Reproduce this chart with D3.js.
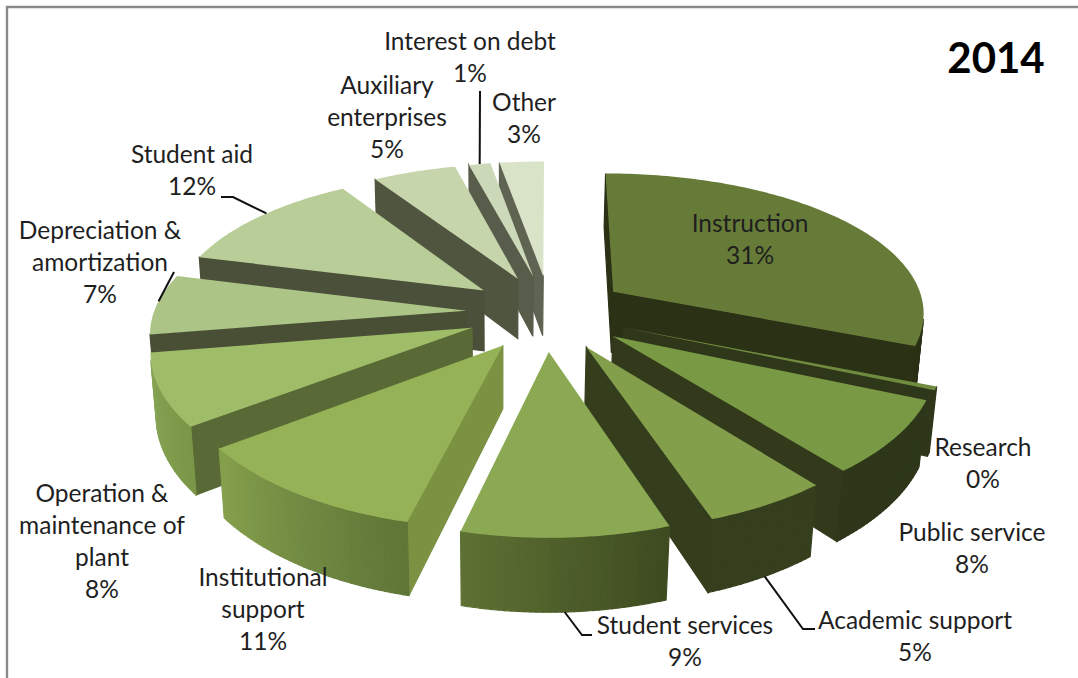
<!DOCTYPE html>
<html>
<head>
<meta charset="utf-8">
<script src="https://cdn.jsdelivr.net/npm/d3@7"></script>
<style>
  html, body { margin: 0; padding: 0; background: #fff; }
  svg { display: block; }
  text { font-family: Lato, "Open Sans", sans-serif; fill: #1f1f1f; }
</style>
</head>
<body>
<svg id="chart" width="1078" height="678"></svg>
<script>
// Spending shares, clockwise from twelve o'clock.
const categories = ["Instruction", "Research", "Public service", "Academic support", "Student services",
  "Institutional support", "Operation & maintenance of plant", "Depreciation & amortization",
  "Student aid", "Auxiliary enterprises", "Interest on debt", "Other"];
const shares = [31.2, 0.4, 7.8, 5.45, 9.0, 10.8, 7.8, 6.75, 11.95, 5.0, 1.3, 2.65];
const chartYear = "2014";

// Colours of each wedge: top surface, flat cut faces, rim at its start and end angle.
const topColors  = ["#677b38", "#6f8b3f", "#7a9944", "#839f4b", "#8aa952", "#95b356",
                    "#9fbc68", "#acc486", "#b8cd97", "#c6d5ab", "#ccd9b8", "#d9e3c8"];
const faceColors = ["#2b3115", "#2f371a", "#323a1b", "#343d1c", "#4a5a28", "#7b9243",
                    "#596a36", "#484f35", "#4b503a", "#50553f", "#585c4a", "#5f6352"];
const rimStart   = ["#2b3115", "#2f371a", "#2e371a", "#363f1d", "#3d4a20", "#5f7537",
                    "#7a9646", "#8aa56a", "#8a9f70", "#8a9a76", "#8a9a76", "#8a9a76"];
const rimEnd     = ["#2b3115", "#2f371a", "#2e371a", "#363f1d", "#5f7234", "#85a04d",
                    "#88a658", "#8aa56a", "#8a9f70", "#8a9a76", "#8a9a76", "#8a9a76"];

// Perspective camera for the tilted disc.
const view = {
  vx: 545, horizon: -766, rise: 3.45,   // vanishing column, horizon row, row per unit of scale
  base: 312.6, foreshorten: 0.131,      // pixels per radius at the centre, depth falloff
  bendNear: 0.032, bendFar: 0.015,      // extra lens curvature in front of and behind the centre
  wall: 0.197,                          // wedge thickness in radii
  explode: 0.268,                       // how far each wedge is pulled out
  leftShift: 5,                         // wedges on the left half sit slightly further right
  nadirX: 495, nadirY: 4300             // walls converge towards this point
};

function project(X, Z, h) {
  const bent = Z + (Z > 0 ? view.bendNear : view.bendFar) * Z * Z;
  const s = view.base / (1 - view.foreshorten * bent);
  const x = view.vx + X * s;
  const y = view.horizon + view.rise * s;
  const dy = view.wall * s * h;
  const t = dy / (view.nadirY - y);
  return [x + (view.nadirX - x) * t, y + dy];
}

const pieLayout = d3.pie().sort(null).value(d => d)(shares);

// Point on a wedge at angle a and radial fraction r, h = 1 on the underside.
function wedgePoint(w, a, r, h) {
  const mid = (w.startAngle + w.endAngle) / 2;
  const X = view.explode * Math.sin(mid) + r * Math.sin(a);
  const Z = -view.explode * Math.cos(mid) - r * Math.cos(a);
  const p = project(X, Z, h);
  return [p[0] + (mid > Math.PI ? view.leftShift : 0), p[1]];
}

const line = d3.line();
const closed = pts => line(pts) + "Z";

const svg = d3.select("#chart");

// Frame along the top and left edges.
svg.append("path")
  .attr("d", line([[7, 678], [7, 7], [1078, 7]]))
  .attr("fill", "none").attr("stroke", "#8a8a8a").attr("stroke-width", 2.4);

// Painter's order: wedges furthest from the viewer first.
const order = d3.range(shares.length).sort((a, b) => {
  const mid = i => (pieLayout[i].startAngle + pieLayout[i].endAngle) / 2;
  return -Math.cos(mid(a)) - -Math.cos(mid(b));
});

const stepAngle = Math.PI / 180;
const pieGroup = svg.append("g");

order.forEach(i => {
  const w = pieLayout[i];
  const g = pieGroup.append("g");
  const n = Math.max(1, Math.ceil((w.endAngle - w.startAngle) / stepAngle));
  const angle = d3.scaleLinear().domain([0, n]).range([w.startAngle, w.endAngle]);
  const rimColor = d3.scaleLinear().domain([0, n]).range([rimStart[i], rimEnd[i]]);

  // Only walls turned towards the viewer get painted.
  const drawWall = (a, b, fill) => {
    const quad = [a(0), b(0), b(1), a(1)];
    if (d3.polygonArea(quad) > 0) {
      g.append("path").attr("d", closed(quad)).attr("fill", fill)
        .attr("stroke", fill).attr("stroke-width", 1.2);
    }
  };

  const apex = h => wedgePoint(w, 0, 0, h);
  const rim = k => h => wedgePoint(w, angle(k), 1, h);

  drawWall(apex, rim(0), faceColors[i]);
  drawWall(rim(n), apex, faceColors[i]);
  d3.range(n).forEach(k => drawWall(rim(k), rim(k + 1), rimColor(k + 0.5)));

  const outline = [apex(0)].concat(d3.range(n + 1).map(k => rim(k)(0)));
  g.append("path").attr("d", closed(outline)).attr("fill", topColors[i]);
});

// Leader lines: [wedge index, fraction across the wedge, on underside, elbow points].
const leaders = [
  [8, 0.55, 0, [[233, 197], [221, 197]]],
  [7, 0.55, 0, [[174, 272]]],
  [10, 0.5, 0, [[480, 91]]],
  [4, 0.5, 1, [[582, 635], [592, 635]]],
  [3, 0.48, 1, [[803, 629], [815, 629]]]
];
leaders.forEach(([i, f, h, elbow]) => {
  const w = pieLayout[i];
  const a = w.startAngle + (w.endAngle - w.startAngle) * f;
  svg.append("path")
    .attr("d", line([wedgePoint(w, a, 1, h)].concat(elbow)))
    .attr("fill", "none").attr("stroke", "#111").attr("stroke-width", 2);
});

// Data labels: wrapped name lines, followed by the rounded share.
const labelLines = [
  ["Instruction"], ["Research"], ["Public service"], ["Academic support"], ["Student services"],
  ["Institutional", "support"], ["Operation &", "maintenance of", "plant"],
  ["Depreciation &", "amortization"], ["Student aid"], ["Auxiliary", "enterprises"],
  ["Interest on debt"], ["Other"]
];
const labelCentreX = [750, 983, 972, 915, 685, 263, 102, 100, 192, 387, 470, 524];
const labelFirstRow = [224, 448, 533, 621, 626, 578, 494, 231, 155, 86, 42, 103];
const rowHeight = 32;

labelLines.forEach((lines, i) => {
  const t = svg.append("text")
    .attr("text-anchor", "middle").attr("font-size", 24.5);
  lines.concat(Math.round(shares[i]) + "%").forEach((s, k) => {
    t.append("tspan").attr("x", labelCentreX[i])
      .attr("y", labelFirstRow[i] + 8 + k * rowHeight).text(s);
  });
});

svg.append("text").attr("x", 996).attr("y", 73)
  .attr("text-anchor", "middle").attr("font-size", 42).attr("font-weight", 700)
  .style("fill", "#000").text(chartYear);
</script>
</body>
</html>
